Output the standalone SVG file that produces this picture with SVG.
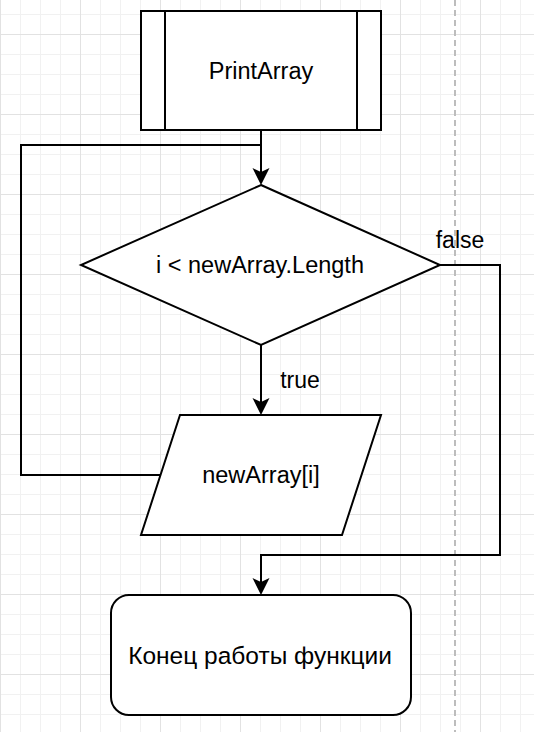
<svg xmlns="http://www.w3.org/2000/svg" width="534" height="732" viewBox="0 0 534 732">
  <style>
    .shape { fill: #ffffff; stroke: #000000; stroke-width: 2; }
    .conn { fill: none; stroke: #000000; stroke-width: 2; }
    .txt { font-family: "Liberation Sans", Arial, Helvetica, sans-serif; font-size: 23.5px; fill: #000000; text-anchor: middle; }
    .lbl { font-family: "Liberation Sans", Arial, Helvetica, sans-serif; font-size: 23px; fill: #000000; text-anchor: middle; }
  </style>
  <defs>
    <pattern id="gridMinor" patternUnits="userSpaceOnUse" x="0" y="14" width="20" height="20">
      <path d="M0.5,0 V20 M0,0.5 H20" fill="none" stroke="#f1f1f1" stroke-width="1"/>
    </pattern>
    <pattern id="gridMajor" patternUnits="userSpaceOnUse" x="0" y="34" width="80" height="80">
      <path d="M0.5,0 V80 M0,0.5 H80" fill="none" stroke="#e2e2e2" stroke-width="1"/>
    </pattern>
    <marker id="arrow" markerUnits="userSpaceOnUse" viewBox="0 -9 18 18" markerWidth="18" markerHeight="18" refX="5" refY="0" orient="auto">
      <path d="M0,-8.5 L17,0 L0,8.5 L4,0 Z" fill="#000000" stroke="none"/>
    </marker>
  </defs>

  <rect x="0" y="0" width="534" height="732" fill="#ffffff"/>
  <rect x="0" y="0" width="534" height="732" fill="url(#gridMinor)"/>
  <rect x="0" y="0" width="534" height="732" fill="url(#gridMajor)"/>
  <line x1="455" y1="0" x2="455" y2="732" stroke="#bdbdbd" stroke-width="2" stroke-dasharray="6 4"/>

  <g id="connectors">
    <path class="conn" d="M261,130 V173" marker-end="url(#arrow)"/>
    <path class="conn" d="M160.5,475 H21 V145 H261"/>
    <path class="conn" d="M261,345 V403" marker-end="url(#arrow)"/>
    <path class="conn" d="M440,265 H500 V555 H261 V583" marker-end="url(#arrow)"/>
    <text class="lbl" x="300" y="388">true</text>
    <text class="lbl" x="460" y="248">false</text>
  </g>

  <g id="node-printarray">
    <rect class="shape" x="141" y="11" width="240" height="119"/>
    <line class="conn" x1="165" y1="11" x2="165" y2="130"/>
    <line class="conn" x1="357" y1="11" x2="357" y2="130"/>
    <text class="txt" x="261" y="79">PrintArray</text>
  </g>

  <g id="node-condition">
    <polygon class="shape" points="261,185 440,265 261,345 81,265"/>
    <text class="txt" x="260" y="273">i &lt; newArray.Length</text>
  </g>

  <g id="node-output">
    <polygon class="shape" points="180,415 381,415 342,535 141,535"/>
    <text class="txt" x="261" y="483">newArray[i]</text>
  </g>

  <g id="node-end">
    <rect class="shape" x="111" y="595" width="300" height="120" rx="18" ry="18"/>
    <text class="txt" x="260" y="664" style="font-size:24.5px">Конец работы функции</text>
  </g>
</svg>
